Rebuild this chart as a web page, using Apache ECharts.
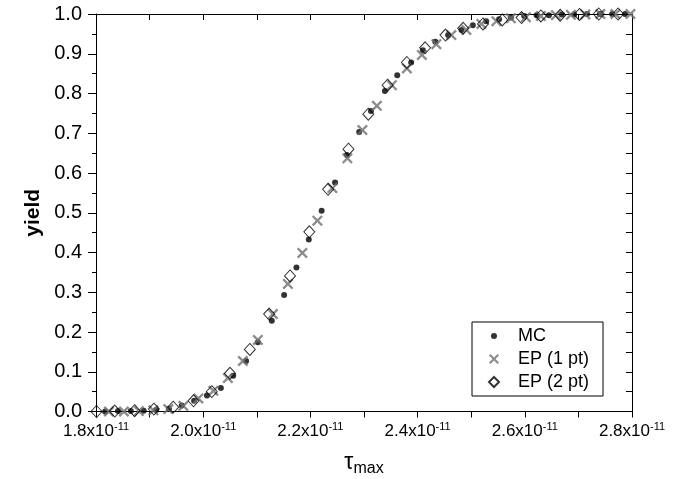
<!DOCTYPE html>
<html>
<head>
<meta charset="utf-8">
<title>Yield vs tau_max</title>
<script src="https://cdn.jsdelivr.net/npm/echarts@6/dist/echarts.min.js"></script>
<style>
  html, body { margin: 0; padding: 0; background: #fff; }
  #chart { width: 686px; height: 479px; }
</style>
</head>
<body>
<div id="chart"></div>
<script>
// tau_max values are in units of 1e-11 s
const mcTau = [1.817, 1.841, 1.865, 1.889, 1.912, 1.936, 1.960, 1.983, 2.007, 2.033, 2.056, 2.080, 2.102, 2.128, 2.151, 2.174, 2.197, 2.221, 2.246, 2.268, 2.291, 2.313, 2.339, 2.362, 2.388, 2.410, 2.433, 2.457, 2.482, 2.503, 2.528, 2.552, 2.574, 2.599, 2.622, 2.645, 2.669, 2.692, 2.716, 2.740, 2.763, 2.787];
const mcYield = [0.000, 0.001, 0.001, 0.002, 0.004, 0.007, 0.015, 0.027, 0.040, 0.059, 0.090, 0.127, 0.174, 0.228, 0.293, 0.362, 0.433, 0.505, 0.576, 0.645, 0.703, 0.756, 0.806, 0.846, 0.878, 0.909, 0.930, 0.947, 0.960, 0.972, 0.982, 0.987, 0.991, 0.995, 0.997, 0.997, 0.999, 0.999, 1.000, 1.000, 1.000, 1.000];

const ep1Tau = [1.824, 1.852, 1.880, 1.907, 1.935, 1.963, 1.991, 2.019, 2.046, 2.074, 2.102, 2.130, 2.158, 2.185, 2.213, 2.241, 2.269, 2.297, 2.324, 2.352, 2.380, 2.408, 2.435, 2.463, 2.491, 2.519, 2.547, 2.574, 2.602, 2.630, 2.658, 2.686, 2.713, 2.741, 2.769, 2.797];
const ep1Yield = [0.000, 0.000, 0.001, 0.003, 0.006, 0.014, 0.033, 0.052, 0.084, 0.127, 0.180, 0.245, 0.321, 0.399, 0.480, 0.562, 0.637, 0.708, 0.769, 0.821, 0.863, 0.897, 0.924, 0.947, 0.960, 0.975, 0.982, 0.989, 0.992, 0.995, 0.997, 0.998, 0.999, 1.000, 1.000, 1.000];

const ep2Tau = [1.801, 1.835, 1.872, 1.908, 1.944, 1.982, 2.016, 2.050, 2.087, 2.123, 2.162, 2.198, 2.233, 2.271, 2.308, 2.344, 2.380, 2.414, 2.452, 2.485, 2.522, 2.558, 2.594, 2.630, 2.666, 2.702, 2.738, 2.774];
const ep2Yield = [0.000, 0.001, 0.002, 0.006, 0.011, 0.027, 0.050, 0.096, 0.156, 0.245, 0.341, 0.452, 0.559, 0.660, 0.748, 0.821, 0.878, 0.915, 0.947, 0.964, 0.975, 0.985, 0.991, 0.995, 0.997, 0.999, 1.000, 1.000];

const seriesNames = ['MC', 'EP (1 pt)', 'EP (2 pt)'];
const xTickMin = 1.8, xTickMax = 2.8, xTickStep = 0.2;
const yTickMin = 0, yTickMax = 1, yTickStep = 0.1;

const FONT = '"Liberation Sans", Arial, Helvetica, sans-serif';
const pairs = (xs, ys) => xs.map((x, i) => [x, ys[i]]);

// filled "x" cross marker
const crossPath = 'path://M0 1.5L1.5 0L5 3.5L8.5 0L10 1.5L6.5 5L10 8.5L8.5 10L5 6.5L1.5 10L0 8.5L3.5 5Z';
// small dot for the legend, padded by invisible move-to corners
const legendDot = 'path://M0 0M10 10M5 2A3 3 0 1 1 4.99 2Z';

const chart = echarts.init(document.getElementById('chart'), null, { renderer: 'canvas' });

const baseX = {
  type: 'value', min: xTickMin, max: xTickMax, interval: xTickStep,
  axisLine: { show: true, onZero: false, lineStyle: { color: '#000', width: 1 } },
  splitLine: { show: false }
};
const baseY = {
  type: 'value', min: yTickMin, max: yTickMax, interval: yTickStep,
  axisLine: { show: true, onZero: false, lineStyle: { color: '#000', width: 1 } },
  splitLine: { show: false }
};

chart.setOption({
  animation: false,
  backgroundColor: '#fff',
  textStyle: { fontFamily: FONT },
  grid: { left: 96, right: 54, top: 14, bottom: 67.5, containLabel: false, outerBoundsMode: 'none' },
  legend: {
    orient: 'vertical',
    left: 472, top: 322,
    padding: [5, 14, 5, 16],
    itemGap: 5,
    itemWidth: 10, itemHeight: 10,
    borderColor: '#000', borderWidth: 1,
    backgroundColor: '#fff',
    selectedMode: false,
    textStyle: { fontSize: 18, color: '#000', fontFamily: FONT, padding: [0, 0, 0, 14], lineHeight: 18 },
    data: [
      { name: seriesNames[0], icon: legendDot },
      { name: seriesNames[1] },
      { name: seriesNames[2] }
    ]
  },
  xAxis: [
    Object.assign({}, baseX, {
      position: 'bottom',
      name: '{t|τ}{m|max}',
      nameLocation: 'middle',
      nameGap: 40,
      nameTextStyle: {
        color: '#000',
        rich: {
          t: { fontSize: 23, lineHeight: 25, verticalAlign: 'top', fontFamily: FONT, color: '#000' },
          m: { fontSize: 16, lineHeight: 16, verticalAlign: 'bottom', fontFamily: FONT, color: '#000' }
        }
      },
      axisTick: { show: true, inside: false, length: 6, lineStyle: { color: '#000' } },
      minorTick: { show: true, splitNumber: 2, length: 6, lineStyle: { color: '#000' } },
      axisLabel: {
        margin: 10,
        color: '#000',
        formatter: v => '{n|' + v.toFixed(1) + 'x10}{s|-11}',
        rich: {
          n: { fontSize: 17, lineHeight: 20, fontFamily: FONT, color: '#000' },
          s: { fontSize: 11, lineHeight: 12, verticalAlign: 'top', fontFamily: FONT, color: '#000' }
        }
      }
    }),
    Object.assign({}, baseX, {
      position: 'top',
      axisTick: { show: true, inside: true, length: 6, lineStyle: { color: '#000' } },
      minorTick: { show: true, splitNumber: 2, length: 6, lineStyle: { color: '#000' } },
      axisLabel: { show: false }
    })
  ],
  yAxis: [
    Object.assign({}, baseY, {
      position: 'left',
      name: 'yield',
      nameLocation: 'middle',
      nameGap: 52,
      nameTextStyle: { fontSize: 21, fontWeight: 'bold', color: '#000', fontFamily: FONT },
      axisTick: { show: true, inside: false, length: 8, lineStyle: { color: '#000' } },
      minorTick: { show: true, splitNumber: 2, length: 4, lineStyle: { color: '#000' } },
      axisLabel: {
        margin: 14,
        fontSize: 20, color: '#000', fontFamily: FONT,
        formatter: v => v.toFixed(1)
      }
    }),
    Object.assign({}, baseY, {
      position: 'right',
      axisTick: { show: true, inside: true, length: 6, lineStyle: { color: '#000' } },
      minorTick: { show: true, splitNumber: 2, length: 6, lineStyle: { color: '#000' } },
      axisLabel: { show: false }
    })
  ],
  series: [
    {
      name: seriesNames[0], type: 'scatter',
      xAxisIndex: 0, yAxisIndex: 0,
      symbol: 'circle', symbolSize: 6,
      itemStyle: { color: '#000' },
      data: pairs(mcTau, mcYield)
    },
    {
      name: seriesNames[1], type: 'scatter',
      xAxisIndex: 0, yAxisIndex: 0,
      symbol: crossPath, symbolSize: 11,
      itemStyle: { color: '#6f6f6f' },
      data: pairs(ep1Tau, ep1Yield)
    },
    {
      name: seriesNames[2], type: 'scatter',
      xAxisIndex: 0, yAxisIndex: 0,
      symbol: 'diamond', symbolSize: [11, 12],
      itemStyle: { color: 'rgba(255,255,255,0)', borderColor: '#000', borderWidth: 1 },
      data: pairs(ep2Tau, ep2Yield)
    }
  ]
});
</script>
</body>
</html>
